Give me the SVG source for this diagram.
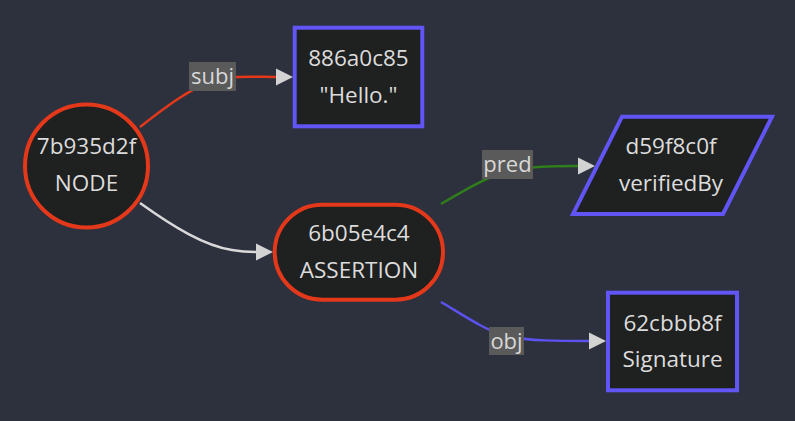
<svg xmlns="http://www.w3.org/2000/svg" width="795" height="421" viewBox="0 0 795 421">
  <style>
    .bg { fill: #2d303d; }
    .node { fill: #1f2020; stroke-width: 4; }
    .red { stroke: #e4381b; }
    .blue { stroke: #6155f5; }
    .t { font-family: "Open Sans", "Liberation Sans", sans-serif; font-size: 22.5px; fill: #dcdcdc; text-anchor: middle; }
    .edge { fill: none; stroke-width: 2.5; }
    .lbl { fill: #5a5a5a; }
    .lt { font-family: "Open Sans", "Liberation Sans", sans-serif; font-size: 22px; fill: #d8d8d8; text-anchor: middle; }
  </style>
  <defs>
    <marker id="arrow" viewBox="0 0 10 10" refX="0" refY="5" markerUnits="userSpaceOnUse" markerWidth="17" markerHeight="18" orient="auto">
      <path d="M0,0 L10,5 L0,10 z" fill="#d3d3d3"/>
    </marker>
  </defs>
  <rect class="bg" x="0" y="0" width="795" height="421"/>

  <g id="connectors">
    <path class="edge" stroke="#e4381b" d="M140,127 C168,105 190,89 212,81 C234,75 255,77 276,77" marker-end="url(#arrow)"/>
    <path class="edge" stroke="#d9d9d9" d="M140,203 C175,228 205,246 232,250 C243,252 249,252 256,252" marker-end="url(#arrow)"/>
    <path class="edge" stroke="#2f7d1b" d="M441,204 C465,190 485,178 505,172 C528,166 555,166 578,166" marker-end="url(#arrow)"/>
    <path class="edge" stroke="#5c52f0" d="M441,302 C463,315 485,330 505,336 C528,341 560,341 589,341" marker-end="url(#arrow)"/>
    <g id="label-subj">
      <rect class="lbl" x="189" y="62" width="47" height="29"/>
      <text class="lt" x="212.5" y="83.5">subj</text>
    </g>
    <g id="label-pred">
      <rect class="lbl" x="482" y="150" width="51" height="29"/>
      <text class="lt" x="507.5" y="172">pred</text>
    </g>
    <g id="label-obj">
      <rect class="lbl" x="489" y="327" width="35" height="28"/>
      <text class="lt" x="506.5" y="349">obj</text>
    </g>
  </g>

  <g id="node-7b935d2f">
    <circle class="node red" cx="86.5" cy="166" r="61.5"/>
    <text class="t" x="86.5" y="154">7b935d2f</text>
    <text class="t" x="86.5" y="191">NODE</text>
  </g>

  <g id="node-886a0c85">
    <rect class="node blue" x="294.7" y="27.7" width="127.6" height="98.6"/>
    <text class="t" x="358.5" y="66">886a0c85</text>
    <text class="t" x="358.5" y="103">"Hello."</text>
  </g>

  <g id="node-6b05e4c4">
    <rect class="node red" x="274.7" y="204.7" width="168.3" height="95" rx="47.5" ry="47.5"/>
    <text class="t" x="359" y="241">6b05e4c4</text>
    <text class="t" x="359" y="278">ASSERTION</text>
  </g>

  <g id="node-d59f8c0f">
    <polygon class="node blue" points="622,116.7 772,116.7 723,214 573,214"/>
    <text class="t" x="671" y="154">d59f8c0f</text>
    <text class="t" x="671" y="191">verifiedBy</text>
  </g>

  <g id="node-62cbbb8f">
    <rect class="node blue" x="608" y="292.7" width="129" height="97.6"/>
    <text class="t" x="672.5" y="331">62cbbb8f</text>
    <text class="t" x="672.5" y="367">Signature</text>
  </g>
</svg>
